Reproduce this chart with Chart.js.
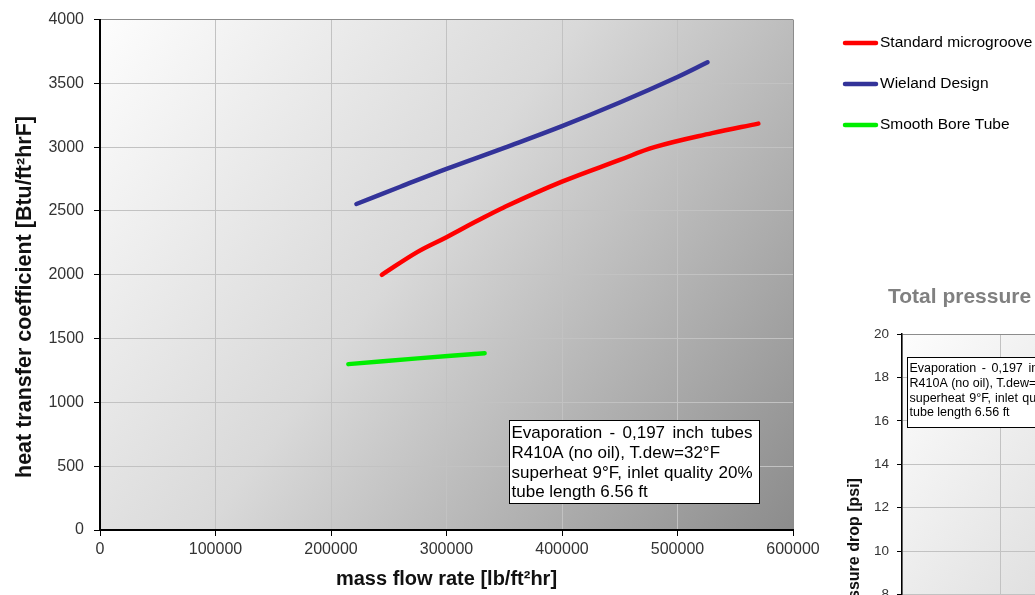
<!DOCTYPE html>
<html><head><meta charset="utf-8">
<script src="https://cdn.jsdelivr.net/npm/chart.js@4/dist/chart.umd.min.js"></script>
<style>
html,body{margin:0;padding:0;background:#fff;width:1035px;height:595px;overflow:hidden;position:relative}
#c1{position:absolute;left:0;top:0}
#c2{position:absolute;left:820px;top:270px}
</style></head><body>
<canvas id="c1" width="1035" height="595"></canvas>
<canvas id="c2" width="720" height="560"></canvas>
<script>
const FONT = "'Liberation Sans', Arial, sans-serif";

// ---- data ----
const seriesNames = ['Standard microgroove', 'Wieland Design', 'Smooth Bore Tube'];
const seriesColors = ['#ff0000', '#333399', '#00ee00'];

const massFlowStandard = [244000, 275000, 300000, 325000, 350000, 400000, 450000, 480000, 530000, 570000];
const htcStandard      = [2000,   2180,   2295,   2415,   2530,   2730,   2900,   3000,   3110,   3185];

const massFlowWieland  = [222000, 260000, 300000, 350000, 400000, 450000, 500000, 526000];
const htcWieland       = [2555,   2690,   2830,   2995,   3165,   3350,   3550,   3665];

const massFlowSmooth   = [215000, 275000, 333000];
const htcSmooth        = [1300,   1345,   1385];

const xTickValues  = [0, 100000, 200000, 300000, 400000, 500000, 600000];
const yTickValues  = [0, 500, 1000, 1500, 2000, 2500, 3000, 3500, 4000];
const y2TickValues = [0, 2, 4, 6, 8, 10, 12, 14, 16, 18, 20];

const xTitle  = 'mass flow rate [lb/ft²hr]';
const yTitle  = 'heat transfer coefficient [Btu/ft²hrF]';
const y2Title = 'pressure drop [psi]';
const chart2Title = 'Total pressure drop';

const noteLines   = ['Evaporation - 0,197 inch tubes', 'R410A (no oil), T.dew=32°F', 'superheat 9°F, inlet quality 20%', 'tube length 6.56 ft'];
const noteJustify = [true, false, true, false];

// ---- helpers ----
function pts(xs, ys) { return xs.map((x, i) => ({x: x, y: ys[i]})); }

function gradientPlugin(id) {
  return {
    id: id,
    beforeDraw(chart) {
      const a = chart.chartArea, ctx = chart.ctx;
      const g = ctx.createLinearGradient(a.left, a.top, a.right, a.bottom);
      g.addColorStop(0, '#fdfdfd');
      g.addColorStop(0.45, '#d9d9d9');
      g.addColorStop(1, '#8c8c8c');
      ctx.save();
      ctx.fillStyle = g;
      ctx.fillRect(a.left, a.top, a.right - a.left, a.bottom - a.top);
      ctx.restore();
    }
  };
}

function drawNote(ctx, left, top, w, h, fontPx, firstY, step, justifyW) {
  ctx.save();
  ctx.fillStyle = '#fff';
  ctx.fillRect(left, top, w, h);
  ctx.strokeStyle = '#000';
  ctx.lineWidth = 1;
  ctx.strokeRect(left, top, w, h);
  ctx.beginPath(); ctx.rect(left, top, w, h); ctx.clip();
  ctx.fillStyle = '#000';
  ctx.font = fontPx + 'px ' + FONT;
  ctx.textBaseline = 'middle';
  noteLines.forEach((line, i) => {
    const y = firstY + i * step;
    const x0 = left + 2;
    if (noteJustify[i]) {
      const words = line.split(' ');
      const total = words.reduce((s, wd) => s + ctx.measureText(wd).width, 0);
      const gap = (justifyW - total) / (words.length - 1);
      let x = x0;
      words.forEach(wd => { ctx.fillText(wd, x, y); x += ctx.measureText(wd).width + gap; });
    } else {
      ctx.fillText(line, x0, y);
    }
  });
  ctx.restore();
}

const gridColor = (edgeVal) => (c) => (c.tick && c.tick.value === edgeVal) ? '#8c8c8c' : '#c2c2c2';

// ---- chart 1 ----
const extras1 = {
  id: 'extras1',
  afterDatasetsDraw(chart) {
    drawNote(chart.ctx, 509.5, 420.5, 250, 83, 17, 433.5, 19.7, 241);
  },
  afterDraw(chart) {
    const ctx = chart.ctx;
    // legend
    chart.data.datasets.forEach((ds, i) => {
      const y = 43 + i * 41;
      ctx.save();
      ctx.strokeStyle = ds.borderColor;
      ctx.lineWidth = 4.5;
      ctx.lineCap = 'round';
      ctx.beginPath(); ctx.moveTo(845, y); ctx.lineTo(876, y); ctx.stroke();
      ctx.fillStyle = '#000';
      ctx.font = '15.5px ' + FONT;
      ctx.textBaseline = 'middle';
      ctx.fillText(ds.label, 880, y);
      ctx.restore();
    });
    // y title
    ctx.save();
    ctx.translate(25, 297);
    ctx.rotate(-Math.PI / 2);
    ctx.fillStyle = '#111';
    ctx.font = 'bold 21.5px ' + FONT;
    ctx.textAlign = 'center';
    ctx.textBaseline = 'middle';
    ctx.fillText(yTitle, 0, 0);
    ctx.restore();
  }
};

new Chart(document.getElementById('c1'), {
  type: 'line',
  data: {
    datasets: [
      {label: seriesNames[0], data: pts(massFlowStandard, htcStandard), borderColor: seriesColors[0]},
      {label: seriesNames[1], data: pts(massFlowWieland, htcWieland), borderColor: seriesColors[1]},
      {label: seriesNames[2], data: pts(massFlowSmooth, htcSmooth), borderColor: seriesColors[2]}
    ].map(d => Object.assign(d, {borderWidth: 4.5, pointRadius: 0, tension: 0.4, fill: false, borderCapStyle: 'round', borderJoinStyle: 'round'}))
  },
  options: {
    responsive: false,
    animation: false,
    layout: {padding: {left: 0, top: 18, right: 242, bottom: 0}},
    plugins: {legend: {display: false}, tooltip: {enabled: false}},
    scales: {
      x: {
        type: 'linear', min: 0, max: 600000,
        afterBuildTicks: s => { s.ticks = xTickValues.map(v => ({value: v})); },
        afterFit: s => { s.height = 65; },
        ticks: {callback: v => String(v), font: {size: 16, family: FONT}, color: '#333', padding: 4, maxRotation: 0, autoSkip: false},
        grid: {color: gridColor(600000), lineWidth: 1, tickLength: 6, tickColor: '#000'},
        border: {color: '#000', width: 2},
        title: {display: true, text: xTitle, font: {size: 20, weight: 'bold', family: FONT}, color: '#111', padding: {top: 0, bottom: 4}}
      },
      y: {
        type: 'linear', min: 0, max: 4000,
        afterBuildTicks: s => { s.ticks = yTickValues.map(v => ({value: v})); },
        afterFit: s => { s.width = 100; },
        ticks: {callback: v => String(v), font: {size: 16, family: FONT}, color: '#333', padding: 10},
        grid: {color: gridColor(4000), lineWidth: 1, tickLength: 6, tickColor: '#000'},
        border: {color: '#000', width: 2}
      }
    }
  },
  plugins: [gradientPlugin('bg1'), extras1]
});

// ---- chart 2 (partially visible) ----
const extras2 = {
  id: 'extras2',
  afterDatasetsDraw(chart) {
    drawNote(chart.ctx, 87.5, 87.5, 185, 70, 12.5, 98.5, 14.8, 178);
  },
  afterDraw(chart) {
    const ctx = chart.ctx;
    ctx.save();
    ctx.fillStyle = '#808080';
    ctx.font = 'bold 21px ' + FONT;
    ctx.textBaseline = 'middle';
    ctx.fillText(chart2Title, 68, 27);
    ctx.restore();
  }
};

new Chart(document.getElementById('c2'), {
  type: 'line',
  data: {datasets: []},
  options: {
    responsive: false,
    animation: false,
    layout: {padding: {left: 0, top: 64, right: 50, bottom: 0}},
    plugins: {legend: {display: false}, tooltip: {enabled: false}},
    scales: {
      x: {
        type: 'linear', min: 0, max: 600000,
        afterBuildTicks: s => { s.ticks = xTickValues.map(v => ({value: v})); },
        afterFit: s => { s.height = 62; },
        ticks: {callback: v => String(v), font: {size: 13, family: FONT}, color: '#333', padding: 4, maxRotation: 0, autoSkip: false},
        grid: {color: gridColor(600000), lineWidth: 1, tickLength: 5, tickColor: '#000'},
        border: {color: '#000', width: 1.5}
      },
      y: {
        type: 'linear', min: 0, max: 20,
        afterBuildTicks: s => { s.ticks = y2TickValues.map(v => ({value: v})); },
        afterFit: s => { s.width = 82; },
        ticks: {callback: v => String(v), font: {size: 13.5, family: FONT}, color: '#333', padding: 8},
        grid: {color: gridColor(20), lineWidth: 1, tickLength: 5, tickColor: '#000'},
        border: {color: '#000', width: 1.5},
        title: {display: true, text: y2Title, font: {size: 16, weight: 'bold', family: FONT}, color: '#111', padding: {top: 25, bottom: 0}}
      }
    }
  },
  plugins: [gradientPlugin('bg2'), extras2]
});
</script>
</body></html>
